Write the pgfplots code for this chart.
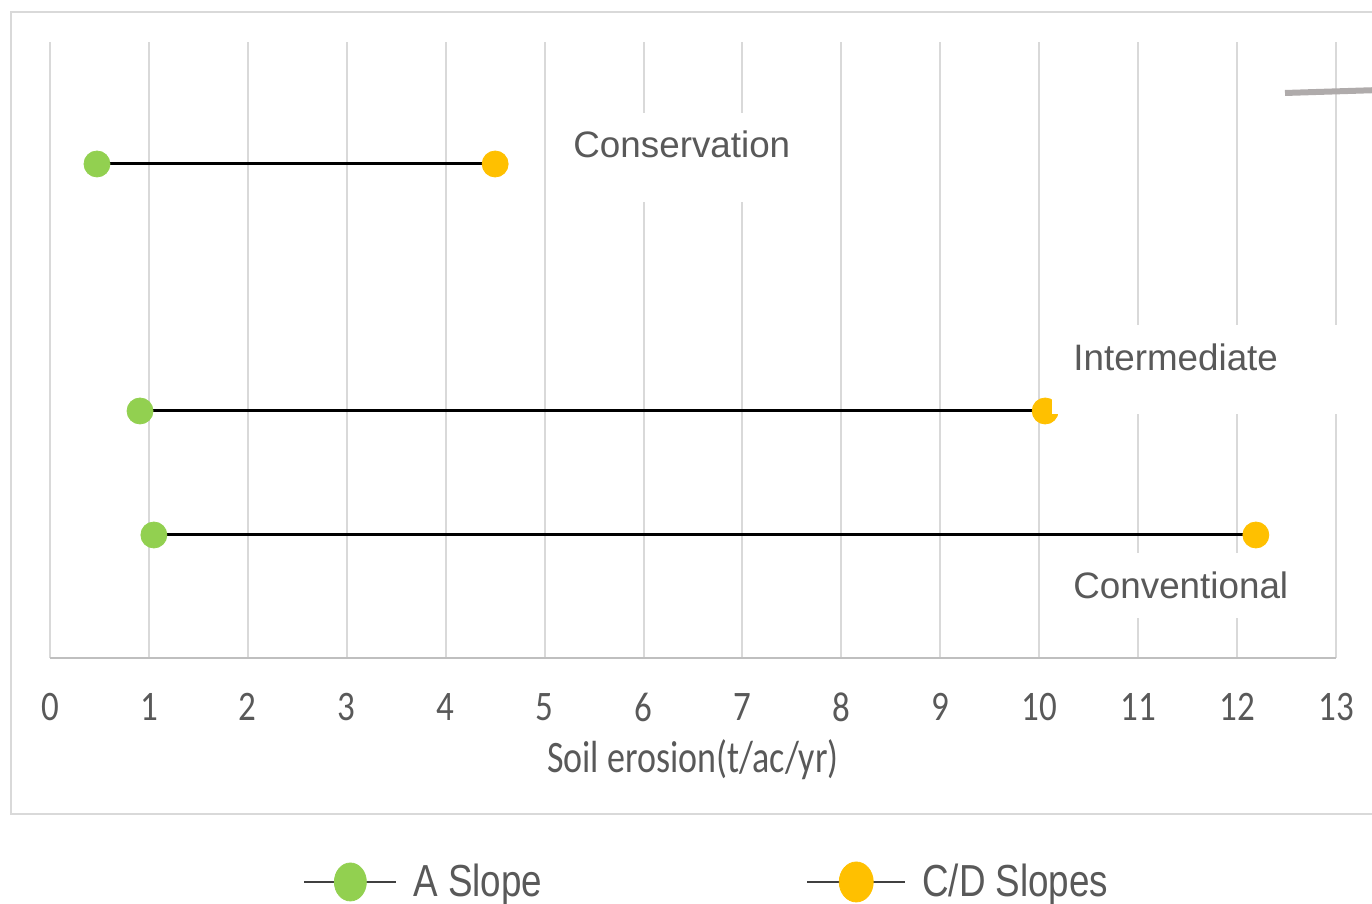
\documentclass[border=0pt]{standalone}
\usepackage{fontspec}
\setmainfont{Liberation Sans}
\newfontfamily\carlito{Carlito}
\usepackage{graphicx}
\usepackage{pgfplots}
\pgfplotsset{compat=1.18}
\definecolor{agreen}{HTML}{92D050}
\definecolor{ayellow}{HTML}{FFC000}
\definecolor{txtgray}{HTML}{595959}
\definecolor{gridgray}{HTML}{D9D9D9}
\definecolor{axisgray}{HTML}{BFBFBF}
\definecolor{leadgray}{HTML}{AFABAB}
\definecolor{leggray}{HTML}{404040}
\begin{document}
\begin{tikzpicture}
\begin{scope}[x=0.5pt,y=0.5pt,shift={(-50,-241)}]
\clip (0,0) rectangle (1372,899);
\draw[gridgray, line width=1pt] (11,887) rectangle (1420,85);
\end{scope}
\begin{axis}[
  set layers,
  scale only axis, width=643pt, height=308pt,
  xmin=0, xmax=13, ymin=0, ymax=616,
  clip=false,
  axis x line=bottom, axis y line=none,
  x axis line style={-, axisgray, line width=1pt},
  xtick={0,1,...,13}, ytick=\empty,
  major tick length=0pt,
  xmajorgrids, grid style={gridgray, line width=1pt},
  xticklabel={\scalebox{1}[1.2]{\pgfmathprintnumber[assume math mode=true]{\tick}}},
  xticklabel style={font=\carlito\fontsize{17.5pt}{20pt}\selectfont, text=txtgray, anchor=center, yshift=-24.5pt},
  xlabel={\scalebox{1}[1.25]{Soil erosion(t/ac/yr)}},
  xlabel style={font=\carlito\fontsize{18pt}{21pt}\selectfont, text=txtgray, at={(axis description cs:0.5,0)}, anchor=center, yshift=-51pt},
  legend columns=2,
  legend style={at={(axis description cs:0.1967,-0.3636)}, anchor=west, draw=none, fill=none, inner sep=0pt,
    font=\fontsize{18.4pt}{22pt}\selectfont, text=txtgray,
    /tikz/every odd column/.append style={column sep=6pt},
    /tikz/every even column/.append style={column sep=130pt}},
]
% connecting lines
\addplot[forget plot, black, line width=1.5pt] coordinates {(0.475,494) (4.5,494)};
\addplot[forget plot, black, line width=1.5pt] coordinates {(0.91,247) (10.06,247)};
\addplot[forget plot, black, line width=1.5pt] coordinates {(1.05,123) (12.19,123)};
% A slope
\addplot[forget plot, only marks, mark=*, mark size=6.5pt, color=agreen]
  coordinates {(0.475,494) (0.91,247) (1.05,123)};
% C/D slopes
\addplot[forget plot, only marks, mark=*, mark size=6.5pt, color=ayellow]
  coordinates {(4.5,494) (10.06,247) (12.19,123)};
% labels
\begin{pgfonlayer}{axis foreground}
\fill[white] (axis cs:5.075,545) rectangle (axis cs:7.693,456);
\node[anchor=base west, inner sep=0pt, text=txtgray, font=\fontsize{18.4pt}{22pt}\selectfont] at (axis cs:5.287,500) {Conservation};
\fill[white] (axis cs:10.129,333) rectangle (axis cs:13.14,244);
\node[anchor=base west, inner sep=0pt, text=txtgray, font=\fontsize{18.4pt}{22pt}\selectfont] at (axis cs:10.341,287) {Intermediate};
\fill[white] (axis cs:10.129,105) rectangle (axis cs:12.727,40);
\node[anchor=base west, inner sep=0pt, text=txtgray, font=\fontsize{18.4pt}{22pt}\selectfont] at (axis cs:10.341,59) {Conventional};
\end{pgfonlayer}
% legend
\addlegendimage{legend image code/.code={
  \draw[leggray, line width=1pt] (0pt,0pt) -- (46pt,0pt);
  \fill[agreen] (23pt,0pt) ellipse [x radius=8pt, y radius=9.5pt];}}
\addlegendentry{\scalebox{1}[1.22]{A Slope}}
\addlegendimage{legend image code/.code={
  \draw[leggray, line width=1pt] (0pt,0pt) -- (49pt,0pt);
  \fill[ayellow] (24.5pt,0pt) ellipse [x radius=8.5pt, y radius=10pt];}}
\addlegendentry{\scalebox{1}[1.22]{C/D Slopes}}
\end{axis}
\begin{scope}[x=0.5pt,y=0.5pt,shift={(-50,-241)}]
\clip (0,0) rectangle (1372,899);
\draw[leadgray, line width=3pt] (1285,806) -- (1380,809);
\end{scope}
\useasboundingbox[x=0.5pt,y=0.5pt,shift={(-50,-241)}] (0,0) rectangle (1372,899);
\end{tikzpicture}
\end{document}
